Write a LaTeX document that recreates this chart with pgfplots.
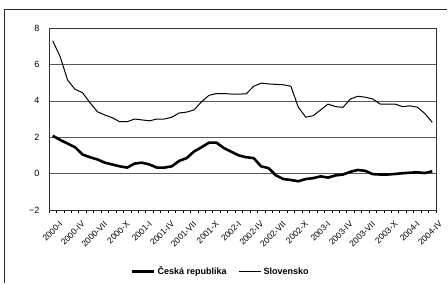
\documentclass[border=0pt]{standalone}
\usepackage{fontspec}
\setmainfont{Liberation Sans}
\usepackage{pgfplots}
\usepackage{pgfplotstable}
\pgfplotsset{compat=1.18}
\pgfplotstableread{
i cz sk
0 2.08 7.30
1 1.85 6.42
2 1.65 5.14
3 1.45 4.63
4 1.05 4.45
5 0.90 3.90
6 0.78 3.40
7 0.60 3.22
8 0.50 3.07
9 0.40 2.85
10 0.33 2.85
11 0.55 3.00
12 0.60 2.95
13 0.50 2.90
14 0.33 3.00
15 0.33 3.00
16 0.40 3.10
17 0.70 3.33
18 0.85 3.38
19 1.22 3.50
20 1.45 3.95
21 1.70 4.30
22 1.70 4.40
23 1.40 4.40
24 1.20 4.37
25 1.00 4.37
26 0.90 4.38
27 0.85 4.80
28 0.40 4.97
29 0.30 4.93
30 -0.10 4.90
31 -0.30 4.88
32 -0.35 4.80
33 -0.42 3.65
34 -0.30 3.10
35 -0.25 3.18
36 -0.15 3.50
37 -0.22 3.82
38 -0.10 3.68
39 -0.05 3.64
40 0.10 4.10
41 0.20 4.25
42 0.15 4.20
43 -0.03 4.10
44 -0.05 3.82
45 -0.05 3.82
46 -0.02 3.82
47 0.02 3.68
48 0.05 3.72
49 0.07 3.65
50 0.03 3.30
51 0.13 2.82
}\datatable
\begin{document}
\begin{tikzpicture}
\path (0pt,0pt) rectangle (448pt,284pt);
\draw[line width=1pt, black!85] (4.5pt,1pt) -- (4.5pt,274pt) -- (447pt,274pt);
\begin{axis}[
  at={(49pt,74pt)}, anchor=south west,
  scale only axis, width=387pt, height=182pt,
  xmin=-0.5, xmax=51.5, ymin=-2, ymax=8,
  ytick={-2,0,2,4,6,8},
  yticklabels={−2,0,2,4,6,8},
  ymajorgrids,
  grid style={black!65, line width=0.6pt},
  xtick={0,3,...,51},
  xticklabels={2000-I,2000-IV,2000-VII,2000-X,2001-I,2001-IV,2001-VII,2001-X,2002-I,2002-IV,2002-VII,2002-X,2003-I,2003-IV,2003-VII,2003-X,2004-I,2004-IV},
  minor xtick={-0.5,0.5,...,51.5},
  major tick length=0pt, minor tick length=3pt, tick align=outside,
  xtick pos=bottom, ytick pos=left,
  minor tick style={black, line width=0.6pt},
  axis line style={black!80, line width=0.7pt},
  xticklabel style={rotate=45, anchor=east, font=\fontsize{8.5}{9}\selectfont, inner sep=0pt, xshift=-3pt, yshift=-15pt},
  yticklabel style={font=\fontsize{9}{10}\selectfont, xshift=-6pt},
  legend columns=2,
  legend style={draw=none, fill=none, at={(axis description cs:0.444,-0.339)}, anchor=center,
    font=\bfseries\fontsize{9}{10}\selectfont, inner sep=1pt,
    /tikz/every even column/.append style={column sep=10pt}},
  legend image code/.code={\draw[#1] (0pt,0pt) -- (22pt,0pt);},
]
\addplot[black, line width=2.6pt, line join=round] table[x=i, y=cz] {\datatable};
\addlegendentry{Česká republika}
\addplot[black, line width=1pt, line join=round] table[x=i, y=sk] {\datatable};
\addlegendentry{Slovensko}
\end{axis}
\end{tikzpicture}
\end{document}
